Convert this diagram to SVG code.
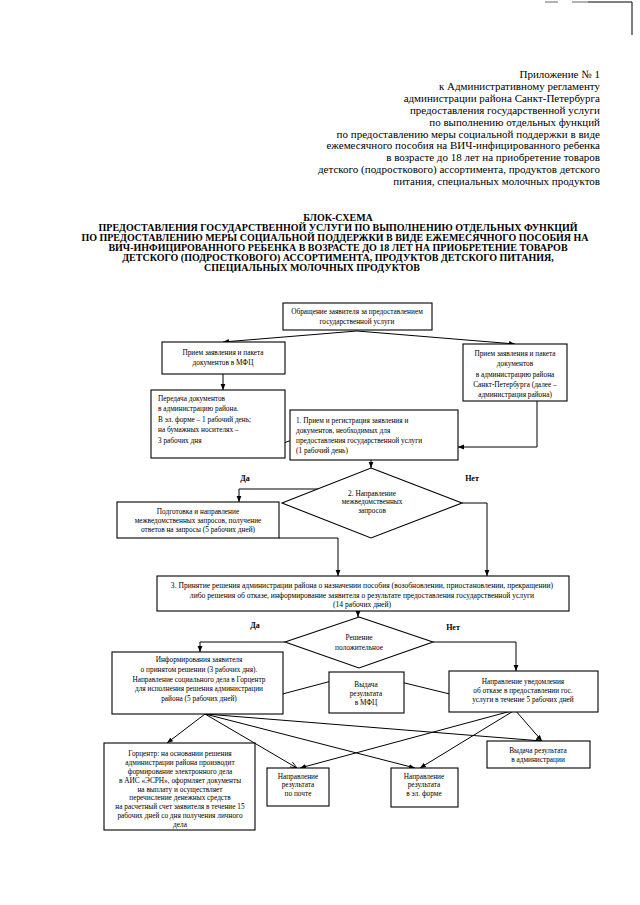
<svg xmlns="http://www.w3.org/2000/svg" width="640" height="905" viewBox="0 0 640 905">
<style>
.hd{font-family:"Liberation Serif",serif;font-size:11px;fill:#000;text-anchor:end}
.tt{font-family:"Liberation Serif",serif;font-size:10px;font-weight:bold;fill:#000;text-anchor:middle}
.bx{fill:#fff;stroke:#000;stroke-width:1.1}
.t{font-family:"Liberation Serif",serif;font-size:7.3px;fill:#000}
.g{font-size:7.6px}
.c{text-anchor:middle}
.lb{font-family:"Liberation Serif",serif;font-size:8px;font-weight:bold;fill:#000;text-anchor:middle}
.ln{fill:none;stroke:#000;stroke-width:1}
</style>
<defs>
<marker id="ar" viewBox="0 0 10 10" refX="10" refY="5" markerWidth="6" markerHeight="6" orient="auto" markerUnits="userSpaceOnUse">
<path d="M0,1 L10,5 L0,9 z" fill="#000"/>
</marker>
<marker id="ao" viewBox="0 0 10 10" refX="10" refY="5" markerWidth="7" markerHeight="7" orient="auto" markerUnits="userSpaceOnUse">
<path d="M0,1 L10,5 L0,9" fill="none" stroke="#000" stroke-width="1.2"/>
</marker>
</defs>
<rect width="640" height="905" fill="#fff"/>
<g id="scan-edge" stroke="#000" fill="none">
<line x1="545" y1="2" x2="558" y2="2" stroke="#999" stroke-width="1.5"/>
<line x1="572" y1="2" x2="588" y2="2" stroke="#999" stroke-width="1.5"/>
<polyline points="588,2 632,2 632,35" stroke-width="1"/>
</g>
<g id="header">
<text class="hd" x="600" y="78">Приложение № 1</text>
<text class="hd" x="600" y="90">к Административному регламенту</text>
<text class="hd" x="600" y="102">администрации района Санкт-Петербурга</text>
<text class="hd" x="600" y="114">предоставления государственной услуги</text>
<text class="hd" x="600" y="126">по выполнению отдельных функций</text>
<text class="hd" x="600" y="138">по предоставлению меры социальной поддержки  в виде</text>
<text class="hd" x="600" y="149">ежемесячного пособия на ВИЧ-инфицированного ребенка</text>
<text class="hd" x="600" y="161">в возрасте до 18 лет  на приобретение товаров</text>
<text class="hd" x="600" y="173">детского (подросткового) ассортимента, продуктов детского</text>
<text class="hd" x="600" y="185">питания, специальных молочных продуктов</text>
</g>
<g id="title">
<text class="tt" x="338" y="221">БЛОК-СХЕМА</text>
<text class="tt" x="338" y="231">ПРЕДОСТАВЛЕНИЯ ГОСУДАРСТВЕННОЙ УСЛУГИ ПО ВЫПОЛНЕНИЮ ОТДЕЛЬНЫХ ФУНКЦИЙ</text>
<text class="tt" x="335" y="241">ПО ПРЕДОСТАВЛЕНИЮ МЕРЫ СОЦИАЛЬНОЙ ПОДДЕРЖКИ В ВИДЕ ЕЖЕМЕСЯЧНОГО ПОСОБИЯ НА</text>
<text class="tt" x="338" y="251">ВИЧ-ИНФИЦИРОВАННОГО РЕБЕНКА В ВОЗРАСТЕ ДО 18 ЛЕТ  НА ПРИОБРЕТЕНИЕ ТОВАРОВ</text>
<text class="tt" x="338" y="261">ДЕТСКОГО (ПОДРОСТКОВОГО) АССОРТИМЕНТА, ПРОДУКТОВ ДЕТСКОГО ПИТАНИЯ,</text>
<text class="tt" x="312" y="271">СПЕЦИАЛЬНЫХ МОЛОЧНЫХ ПРОДУКТОВ</text>
</g>
<g id="connectors">
<path class="ln" d="M357,331 L223,342" marker-end="url(#ar)"/>
<path class="ln" d="M357,331 L515,344" marker-end="url(#ar)"/>
<path class="ln" d="M223,374 L223,390" marker-end="url(#ar)"/>
<path class="ln" d="M245,457 L372,411" marker-end="url(#ar)"/>
<path class="ln" d="M537,401 L537,447 L458,447" marker-end="url(#ar)"/>
<path class="ln" d="M371,460 L371,468" marker-end="url(#ar)"/>
<path class="ln" d="M318,489 L239,489 L239,502" marker-end="url(#ar)"/>
<path class="ln" d="M279,538 L338,538 L338,576" marker-end="url(#ar)"/>
<path class="ln" d="M462,503 L487,503 L487,576" marker-end="url(#ar)"/>
<path class="ln" d="M358,611 L358,617" marker-end="url(#ar)"/>
<path class="ln" d="M285,642 L200,642 L200,652" marker-end="url(#ar)"/>
<path class="ln" d="M433,642 L516,642 L516,671" marker-end="url(#ar)"/>
<path class="ln" d="M207,714 L358,674" marker-end="url(#ar)"/>
<path class="ln" d="M515,710 L368,674" marker-end="url(#ar)"/>
<path class="ln" d="M205,714 L167,743" marker-end="url(#ar)"/>
<path class="ln" d="M205,714 L297,768" marker-end="url(#ao)"/>
<path class="ln" d="M205,714 L415,768" marker-end="url(#ar)"/>
<path class="ln" d="M205,714 L542,741" marker-end="url(#ar)"/>
<path class="ln" d="M515,710 L300,768" marker-end="url(#ar)"/>
<path class="ln" d="M515,710 L420,768" marker-end="url(#ar)"/>
<path class="ln" d="M515,710 L542,741" marker-end="url(#ar)"/>
</g>
<g id="labels">
<text class="lb" x="245" y="481">Да</text>
<text class="lb" x="472" y="481">Нет</text>
<text class="lb" x="255" y="628">Да</text>
<text class="lb" x="453" y="630">Нет</text>
</g>
<g id="n-appeal">
<rect class="bx" x="283" y="303" width="149" height="27"/>
<text class="t c" x="357" y="314">Обращение заявителя за предоставлением</text>
<text class="t c" x="357" y="324">государственной услуги</text>
</g>
<g id="n-mfc">
<rect class="bx" x="162" y="342" width="123" height="32"/>
<text class="t c" x="223" y="355">Прием заявления и пакета</text>
<text class="t c" x="223" y="365">документов в МФЦ</text>
</g>
<g id="n-admin">
<rect class="bx" x="463" y="344" width="104" height="57"/>
<text class="t c" x="515" y="356">Прием заявления и пакета</text>
<text class="t c" x="515" y="366">документов</text>
<text class="t c" x="515" y="377">в администрацию района</text>
<text class="t c" x="515" y="387">Санкт-Петербурга (далее –</text>
<text class="t c" x="515" y="397">администрация района)</text>
</g>
<g id="n-transfer">
<rect class="bx" x="151" y="390" width="134" height="68"/>
<text class="t" x="158" y="401">Передача документов</text>
<text class="t" x="158" y="411">в администрацию района.</text>
<text class="t" x="158" y="422">В эл. форме – 1  рабочий день;</text>
<text class="t" x="158" y="432">на бумажных носителях –</text>
<text class="t" x="158" y="443">3 рабочих дня</text>
</g>
<g id="n-step1">
<rect class="bx" x="290" y="410" width="168" height="50"/>
<text class="t" x="296" y="423">1. Прием и регистрация заявления и</text>
<text class="t" x="296" y="433">документов, необходимых для</text>
<text class="t" x="296" y="443">предоставления государственной услуги</text>
<text class="t" x="296" y="453">(1 рабочий день)</text>
</g>
<g id="n-step2">
<polygon class="bx" points="371,468 462,503 371,538 282,503"/>
<text class="t c" x="372" y="496">2. Направление</text>
<text class="t c" x="372" y="504">межведомственных</text>
<text class="t c" x="372" y="513">запросов</text>
</g>
<g id="n-requests">
<rect class="bx" x="117" y="502" width="162" height="36"/>
<text class="t c" x="198" y="514">Подготовка и направление</text>
<text class="t c" x="198" y="523">межведомственных запросов, получение</text>
<text class="t c" x="198" y="532">ответов на запросы (5 рабочих дней)</text>
</g>
<g id="n-step3">
<rect class="bx" x="157" y="576" width="412" height="35"/>
<text class="t g c" x="362" y="588">3. Принятие решения администрации района о назначении пособия (возобновлении, приостановлении, прекращении)</text>
<text class="t g c" x="362" y="598">либо решения об отказе, информирование заявителя о результате предоставления государственной услуги</text>
<text class="t g c" x="362" y="607">(14 рабочих дней)</text>
</g>
<g id="n-decision">
<polygon class="bx" points="359,617 433,642 359,668 285,642"/>
<text class="t c" x="359" y="640">Решение</text>
<text class="t c" x="359" y="650">положительное</text>
</g>
<g id="n-inform">
<rect class="bx" x="112" y="652" width="171" height="62"/>
<text class="t c" x="199" y="662">Информирования заявителя</text>
<text class="t c" x="199" y="672">о принятом решении (3 рабочих дня).</text>
<text class="t c" x="199" y="682">Направление социального дела в Горцентр</text>
<text class="t c" x="199" y="691">для исполнения решения администрации</text>
<text class="t c" x="199" y="701">района (5 рабочих дней)</text>
</g>
<g id="n-mfc-result">
<rect class="bx" x="329" y="672" width="75" height="41"/>
<text class="t c" x="366" y="687">Выдача</text>
<text class="t c" x="366" y="696">результата</text>
<text class="t c" x="366" y="705">в МФЦ</text>
</g>
<g id="n-refusal">
<rect class="bx" x="449" y="671" width="149" height="41"/>
<text class="t c" x="523" y="684">Направление уведомления</text>
<text class="t c" x="523" y="693">об отказе в предоставлении гос.</text>
<text class="t c" x="523" y="702">услуги в течение 5 рабочих дней</text>
</g>
<g id="n-gorcenter">
<rect class="bx" x="104" y="743" width="151" height="87"/>
<text class="t c" x="180" y="756">Горцентр: на основании решения</text>
<text class="t c" x="180" y="765">администрации района производит</text>
<text class="t c" x="180" y="774">формирование электронного дела</text>
<text class="t c" x="180" y="783">в АИС «ЭСРН», оформляет документы</text>
<text class="t c" x="180" y="792">на выплату и осуществляет</text>
<text class="t c" x="180" y="800">перечисление денежных средств</text>
<text class="t c" x="180" y="809">на расчетный счет заявителя в течение 15</text>
<text class="t c" x="180" y="818">рабочих дней со дня получения личного</text>
<text class="t c" x="180" y="827">дела</text>
</g>
<g id="n-post">
<rect class="bx" x="267" y="768" width="62" height="38"/>
<text class="t c" x="298" y="779">Направление</text>
<text class="t c" x="298" y="787">результата</text>
<text class="t c" x="298" y="796">по почте</text>
</g>
<g id="n-electronic">
<rect class="bx" x="391" y="768" width="67" height="39"/>
<text class="t c" x="424" y="779">Направление</text>
<text class="t c" x="424" y="787">результата</text>
<text class="t c" x="424" y="796">в эл. форме</text>
</g>
<g id="n-admin-result">
<rect class="bx" x="487" y="741" width="103" height="27"/>
<text class="t c" x="538" y="753">Выдача результата</text>
<text class="t c" x="538" y="762">в администрации</text>
</g>
</svg>
